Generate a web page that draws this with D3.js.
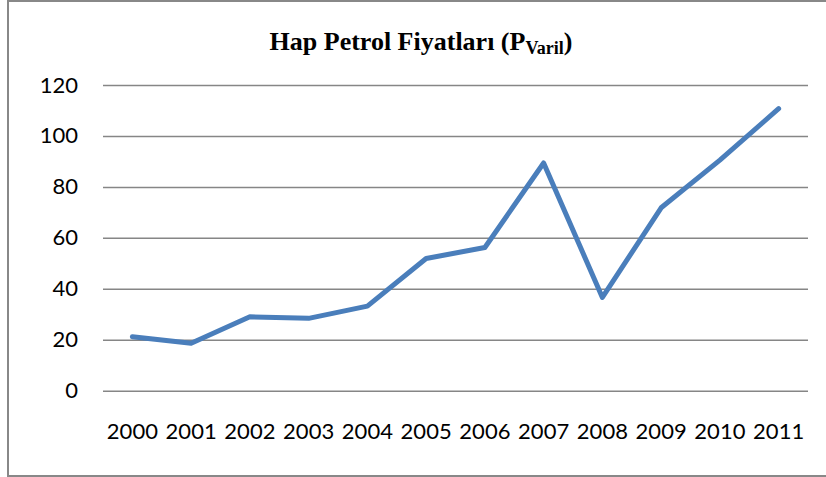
<!DOCTYPE html>
<html>
<head>
<meta charset="utf-8">
<script src="https://cdnjs.cloudflare.com/ajax/libs/d3/7.8.5/d3.min.js"></script>
<style>
  body { margin: 0; background: #fff; }
  svg { display: block; }
</style>
</head>
<body>
<script>
// data
var years = ["2000","2001","2002","2003","2004","2005","2006","2007","2008","2009","2010","2011"];
var prices = [21.2, 18.6, 29, 28.4, 33.2, 51.9, 56.2, 89.4, 36.6, 71.8, 90.5, 110.7];
var yTicks = [0, 20, 40, 60, 80, 100, 120];
var titleMain = "Hap Petrol Fiyatları (P";
var titleSub = "Varil";

var W = 826, H = 477;
var margin = {top: 85, right: 18, bottom: 86, left: 103},
    width = 808 - margin.left,
    height = 390.7 - margin.top;

var svg = d3.select("body").append("svg")
    .attr("width", W)
    .attr("height", H);

// chart frame
svg.append("rect")
    .attr("x", 8).attr("y", 1)
    .attr("width", 830).attr("height", 475)
    .attr("fill", "#fff")
    .attr("stroke", "#888")
    .attr("stroke-width", 2);

// title
var title = svg.append("text")
    .attr("x", 421).attr("y", 49.5)
    .attr("text-anchor", "middle")
    .style("font-family", "'Liberation Serif', 'Times New Roman', serif")
    .style("font-weight", "bold")
    .style("font-size", "26px")
    .style("fill", "#000");
title.append("tspan").text(titleMain);
title.append("tspan").attr("dy", 4).style("font-size", "18px").text(titleSub);
title.append("tspan").attr("dy", -4).text(")");

var g = svg.append("g")
    .attr("transform", "translate(" + margin.left + "," + margin.top + ")");

var x = d3.scaleBand().domain(years).range([0, width]).padding(0);
var y = d3.scaleLinear().domain([0, 120]).range([height, 0]);

// gridlines + y labels
var yAxis = g.append("g")
    .call(d3.axisLeft(y).tickValues(yTicks).tickSize(-width).tickPadding(25).tickFormat(d3.format("d")));
yAxis.select(".domain").remove();
yAxis.selectAll(".tick line")
    .attr("stroke", "#868686")
    .attr("stroke-width", 1.5);
yAxis.selectAll(".tick text")
    .style("font-family", "Lato, 'Open Sans', sans-serif")
    .style("font-size", "22px")
    .attr("fill", "#000");

// x labels
var xAxis = g.append("g")
    .attr("transform", "translate(0," + height + ")")
    .call(d3.axisBottom(x).tickSize(0).tickPadding(0));
xAxis.select(".domain").remove();
xAxis.selectAll(".tick text")
    .attr("y", 48)
    .attr("dy", 0)
    .style("font-family", "Lato, 'Open Sans', sans-serif")
    .style("font-size", "22px")
    .attr("fill", "#000");

// price line
var line = d3.line()
    .x(function(d, i) { return x(years[i]) + x.bandwidth() / 2; })
    .y(function(d) { return y(d); });

g.append("path")
    .datum(prices)
    .attr("d", line)
    .attr("fill", "none")
    .attr("stroke", "#4A7EBB")
    .attr("stroke-width", 5)
    .attr("stroke-linejoin", "round")
    .attr("stroke-linecap", "round");
</script>
</body>
</html>
